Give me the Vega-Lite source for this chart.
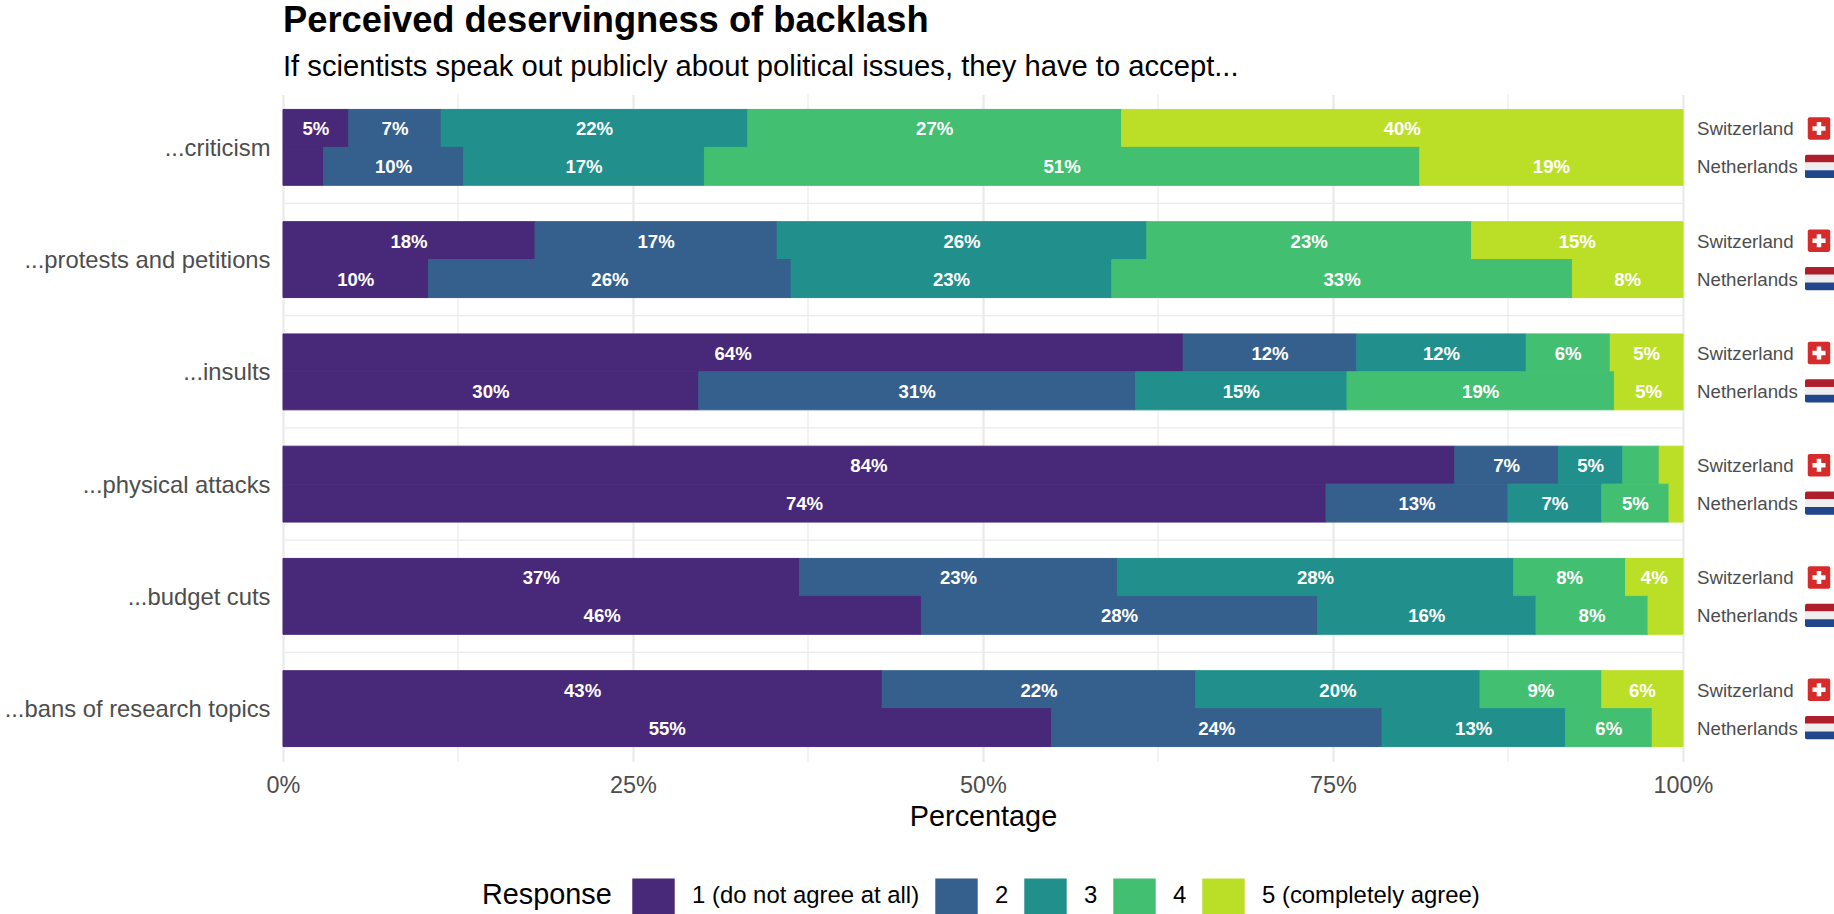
{
"$schema":"https://vega.github.io/schema/vega-lite/v6.json",
"width":1400,"height":667,
"autosize":{"type":"none"},
"padding":{"left":283,"top":94.5,"right":151,"bottom":152.5},
"background":"white",
"title":{"text":"Perceived deservingness of backlash","subtitle":"If scientists speak out publicly about political issues, they have to accept...","anchor":"start","frame":"group","font":"Liberation Sans","fontSize":36.3,"fontWeight":"bold","color":"#000000","subtitleFont":"Liberation Sans","subtitleFontSize":29.2,"subtitleColor":"#000000","subtitlePadding":13,"offset":12},
"config":{"view":{"stroke":null},"font":"Liberation Sans"},
"datasets":{
"flags":[{"q":"...criticism","country":"Switzerland"},{"q":"...criticism","country":"Netherlands"},{"q":"...protests and petitions","country":"Switzerland"},{"q":"...protests and petitions","country":"Netherlands"},{"q":"...insults","country":"Switzerland"},{"q":"...insults","country":"Netherlands"},{"q":"...physical attacks","country":"Switzerland"},{"q":"...physical attacks","country":"Netherlands"},{"q":"...budget cuts","country":"Switzerland"},{"q":"...budget cuts","country":"Netherlands"},{"q":"...bans of research topics","country":"Switzerland"},{"q":"...bans of research topics","country":"Netherlands"}],
"minor":[{"v":12.5},{"v":37.5},{"v":62.5},{"v":87.5}],
"bands":[{"q":"...criticism"},{"q":"...protests and petitions"},{"q":"...insults"},{"q":"...physical attacks"},{"q":"...budget cuts"}],
"resp":[
{"q":"...criticism","country":"Switzerland","r":"1 (do not agree at all)","pct":4.7,"label":"5%"},
{"q":"...criticism","country":"Switzerland","r":"2","pct":6.6,"label":"7%"},
{"q":"...criticism","country":"Switzerland","r":"3","pct":21.9,"label":"22%"},
{"q":"...criticism","country":"Switzerland","r":"4","pct":26.7,"label":"27%"},
{"q":"...criticism","country":"Switzerland","r":"5 (completely agree)","pct":40.1,"label":"40%"},
{"q":"...criticism","country":"Netherlands","r":"1 (do not agree at all)","pct":2.9,"label":""},
{"q":"...criticism","country":"Netherlands","r":"2","pct":10,"label":"10%"},
{"q":"...criticism","country":"Netherlands","r":"3","pct":17.2,"label":"17%"},
{"q":"...criticism","country":"Netherlands","r":"4","pct":51.1,"label":"51%"},
{"q":"...criticism","country":"Netherlands","r":"5 (completely agree)","pct":18.8,"label":"19%"},
{"q":"...protests and petitions","country":"Switzerland","r":"1 (do not agree at all)","pct":18,"label":"18%"},
{"q":"...protests and petitions","country":"Switzerland","r":"2","pct":17.3,"label":"17%"},
{"q":"...protests and petitions","country":"Switzerland","r":"3","pct":26.4,"label":"26%"},
{"q":"...protests and petitions","country":"Switzerland","r":"4","pct":23.2,"label":"23%"},
{"q":"...protests and petitions","country":"Switzerland","r":"5 (completely agree)","pct":15.1,"label":"15%"},
{"q":"...protests and petitions","country":"Netherlands","r":"1 (do not agree at all)","pct":10.4,"label":"10%"},
{"q":"...protests and petitions","country":"Netherlands","r":"2","pct":25.9,"label":"26%"},
{"q":"...protests and petitions","country":"Netherlands","r":"3","pct":22.9,"label":"23%"},
{"q":"...protests and petitions","country":"Netherlands","r":"4","pct":32.9,"label":"33%"},
{"q":"...protests and petitions","country":"Netherlands","r":"5 (completely agree)","pct":7.9,"label":"8%"},
{"q":"...insults","country":"Switzerland","r":"1 (do not agree at all)","pct":64.3,"label":"64%"},
{"q":"...insults","country":"Switzerland","r":"2","pct":12.4,"label":"12%"},
{"q":"...insults","country":"Switzerland","r":"3","pct":12.1,"label":"12%"},
{"q":"...insults","country":"Switzerland","r":"4","pct":6,"label":"6%"},
{"q":"...insults","country":"Switzerland","r":"5 (completely agree)","pct":5.2,"label":"5%"},
{"q":"...insults","country":"Netherlands","r":"1 (do not agree at all)","pct":29.7,"label":"30%"},
{"q":"...insults","country":"Netherlands","r":"2","pct":31.2,"label":"31%"},
{"q":"...insults","country":"Netherlands","r":"3","pct":15.1,"label":"15%"},
{"q":"...insults","country":"Netherlands","r":"4","pct":19.1,"label":"19%"},
{"q":"...insults","country":"Netherlands","r":"5 (completely agree)","pct":4.9,"label":"5%"},
{"q":"...physical attacks","country":"Switzerland","r":"1 (do not agree at all)","pct":83.7,"label":"84%"},
{"q":"...physical attacks","country":"Switzerland","r":"2","pct":7.4,"label":"7%"},
{"q":"...physical attacks","country":"Switzerland","r":"3","pct":4.6,"label":"5%"},
{"q":"...physical attacks","country":"Switzerland","r":"4","pct":2.6,"label":""},
{"q":"...physical attacks","country":"Switzerland","r":"5 (completely agree)","pct":1.7,"label":""},
{"q":"...physical attacks","country":"Netherlands","r":"1 (do not agree at all)","pct":74.5,"label":"74%"},
{"q":"...physical attacks","country":"Netherlands","r":"2","pct":13,"label":"13%"},
{"q":"...physical attacks","country":"Netherlands","r":"3","pct":6.7,"label":"7%"},
{"q":"...physical attacks","country":"Netherlands","r":"4","pct":4.8,"label":"5%"},
{"q":"...physical attacks","country":"Netherlands","r":"5 (completely agree)","pct":1,"label":""},
{"q":"...budget cuts","country":"Switzerland","r":"1 (do not agree at all)","pct":36.9,"label":"37%"},
{"q":"...budget cuts","country":"Switzerland","r":"2","pct":22.7,"label":"23%"},
{"q":"...budget cuts","country":"Switzerland","r":"3","pct":28.3,"label":"28%"},
{"q":"...budget cuts","country":"Switzerland","r":"4","pct":8,"label":"8%"},
{"q":"...budget cuts","country":"Switzerland","r":"5 (completely agree)","pct":4.1,"label":"4%"},
{"q":"...budget cuts","country":"Netherlands","r":"1 (do not agree at all)","pct":45.6,"label":"46%"},
{"q":"...budget cuts","country":"Netherlands","r":"2","pct":28.3,"label":"28%"},
{"q":"...budget cuts","country":"Netherlands","r":"3","pct":15.6,"label":"16%"},
{"q":"...budget cuts","country":"Netherlands","r":"4","pct":8,"label":"8%"},
{"q":"...budget cuts","country":"Netherlands","r":"5 (completely agree)","pct":2.5,"label":""},
{"q":"...bans of research topics","country":"Switzerland","r":"1 (do not agree at all)","pct":42.8,"label":"43%"},
{"q":"...bans of research topics","country":"Switzerland","r":"2","pct":22.4,"label":"22%"},
{"q":"...bans of research topics","country":"Switzerland","r":"3","pct":20.3,"label":"20%"},
{"q":"...bans of research topics","country":"Switzerland","r":"4","pct":8.7,"label":"9%"},
{"q":"...bans of research topics","country":"Switzerland","r":"5 (completely agree)","pct":5.8,"label":"6%"},
{"q":"...bans of research topics","country":"Netherlands","r":"1 (do not agree at all)","pct":54.9,"label":"55%"},
{"q":"...bans of research topics","country":"Netherlands","r":"2","pct":23.6,"label":"24%"},
{"q":"...bans of research topics","country":"Netherlands","r":"3","pct":13.1,"label":"13%"},
{"q":"...bans of research topics","country":"Netherlands","r":"4","pct":6.2,"label":"6%"},
{"q":"...bans of research topics","country":"Netherlands","r":"5 (completely agree)","pct":2.2,"label":""}
]},
"layer":[
{"data":{"name":"minor"},"mark":{"type":"rule","color":"#EBEBEB","strokeWidth":1.2},"encoding":{"x":{"field":"v","type":"quantitative","scale":{"domain":[0,100],"nice":false},"axis":{"values":[0,25,50,75,100],"labelExpr":"datum.value + '%'","title":"Percentage","grid":true,"gridColor":"#EBEBEB","gridWidth":2.4,"domain":false,"ticks":false,"labelFont":"Liberation Sans","labelFontSize":23.4,"labelColor":"#4D4D4D","labelPadding":13,"labelFlush":false,"titleFont":"Liberation Sans","titleFontSize":28.8,"titleFontWeight":"normal","titleColor":"#000000","titlePadding":6}}}},
{"data":{"name":"bands"},"mark":{"type":"rule","color":"#EBEBEB","strokeWidth":1.2,"yOffset":18},"encoding":{"y":{"field":"q","type":"nominal","bandPosition":1,"sort":["...criticism","...protests and petitions","...insults","...physical attacks","...budget cuts","...bans of research topics"],"scale":{"paddingInner":0.324,"paddingOuter":0.133},"title":null,"axis":{"domain":false,"ticks":false,"grid":false,"labelFont":"Liberation Sans","labelFontSize":23.8,"labelColor":"#4D4D4D","labelPadding":13,"labelLimit":400,"labelOffset":1.5}}}},
{"data":{"name":"resp"},
 "transform":[{"stack":"pct","groupby":["q","country"],"as":["x0","x1"]}],
 "layer":[
 {"mark":{"type":"bar","strokeWidth":1},"encoding":{
  "y":{"field":"q","type":"nominal","sort":["...criticism","...protests and petitions","...insults","...physical attacks","...budget cuts","...bans of research topics"],"title":null},
  "yOffset":{"field":"country","type":"nominal","sort":["Switzerland","Netherlands"],"scale":{"paddingInner":0,"paddingOuter":0}},
  "x":{"field":"x0","type":"quantitative"},"x2":{"field":"x1"},
  "stroke":{"field":"r","type":"nominal","scale":{"domain":["1 (do not agree at all)","2","3","4","5 (completely agree)"],"range":["#482878","#35608D","#21908C","#43BF71","#BBDF27"]},"legend":null},
  "color":{"field":"r","type":"nominal","sort":["1 (do not agree at all)","2","3","4","5 (completely agree)"],
   "scale":{"domain":["1 (do not agree at all)","2","3","4","5 (completely agree)"],"range":["#482878","#35608D","#21908C","#43BF71","#BBDF27"]},
   "legend":{"orient":"none","legendX":199,"legendY":780,"direction":"horizontal","title":"Response","titleOrient":"left","titleFont":"Liberation Sans","titleFontSize":28.8,"titleFontWeight":"normal","titleColor":"#000000","titlePadding":20,"labelFont":"Liberation Sans","labelFontSize":23.9,"labelColor":"#000000","labelOffset":17,"labelLimit":400,"columnPadding":15,"symbolType":"M-1,-0.84H1V0.84H-1Z","symbolSize":1800,"symbolStrokeWidth":0,"symbolOpacity":1,"columns":5}}}},
 {"transform":[{"fold":["x0","x1"],"as":["edge","edgeValue"]}],
  "mark":{"type":"text","color":"white","font":"Liberation Sans","fontWeight":"bold","fontSize":18.6,"align":"center","baseline":"middle","dy":1},"encoding":{
  "y":{"field":"q","type":"nominal","sort":["...criticism","...protests and petitions","...insults","...physical attacks","...budget cuts","...bans of research topics"],"title":null},
  "yOffset":{"field":"country","type":"nominal","sort":["Switzerland","Netherlands"]},
  "x":{"aggregate":"mean","field":"edgeValue","type":"quantitative","stack":null},
  "detail":{"field":"r"},
  "text":{"field":"label","type":"nominal"}}}
 ]},
{"data":{"name":"flags"},"encoding":{
  "y":{"field":"q","type":"nominal","sort":["...criticism","...protests and petitions","...insults","...physical attacks","...budget cuts","...bans of research topics"],"title":null},
  "yOffset":{"field":"country","type":"nominal","sort":["Switzerland","Netherlands"]},
  "x":{"datum":100,"type":"quantitative"}},
 "layer":[
 {"mark":{"type":"text","dx":14,"dy":1,"align":"left","baseline":"middle","font":"Liberation Sans","fontSize":18.7,"color":"#4D4D4D"},"encoding":{"text":{"field":"country"}}},
 {"transform":[{"filter":"datum.country == 'Switzerland'"}],"mark":{"type":"point","filled":true,"opacity":1,"fill":"#D62B2B","strokeWidth":0,"xOffset":136,"size":506,"shape":"M-0.82,-1H0.82Q1,-1 1,-0.82V0.82Q1,1 0.82,1H-0.82Q-1,1 -1,0.82V-0.82Q-1,-1 -0.82,-1Z"}},
 {"transform":[{"filter":"datum.country == 'Switzerland'"}],"mark":{"type":"point","filled":true,"opacity":1,"fill":"#FFFFFF","strokeWidth":0,"xOffset":136,"size":506,"shape":"M-0.2,-0.58H0.2V-0.2H0.58V0.2H0.2V0.58H-0.2V0.2H-0.58V-0.2H-0.2Z"}},
 {"transform":[{"filter":"datum.country == 'Netherlands'"}],"mark":{"type":"point","filled":true,"opacity":1,"fill":"#AE1F2B","strokeWidth":0,"xOffset":137,"size":900,"shape":"M-1,-0.26V-0.66Q-1,-0.78 -0.88,-0.78H0.88Q1,-0.78 1,-0.66V-0.26Z"}},
 {"transform":[{"filter":"datum.country == 'Netherlands'"}],"mark":{"type":"point","filled":true,"opacity":1,"fill":"#EEEEEE","strokeWidth":0,"xOffset":137,"size":900,"shape":"M-1,-0.26H1V0.26H-1Z"}},
 {"transform":[{"filter":"datum.country == 'Netherlands'"}],"mark":{"type":"point","filled":true,"opacity":1,"fill":"#21468B","strokeWidth":0,"xOffset":137,"size":900,"shape":"M-1,0.26V0.66Q-1,0.78 -0.88,0.78H0.88Q1,0.78 1,0.66V0.26Z"}}
 ]}
]
}
